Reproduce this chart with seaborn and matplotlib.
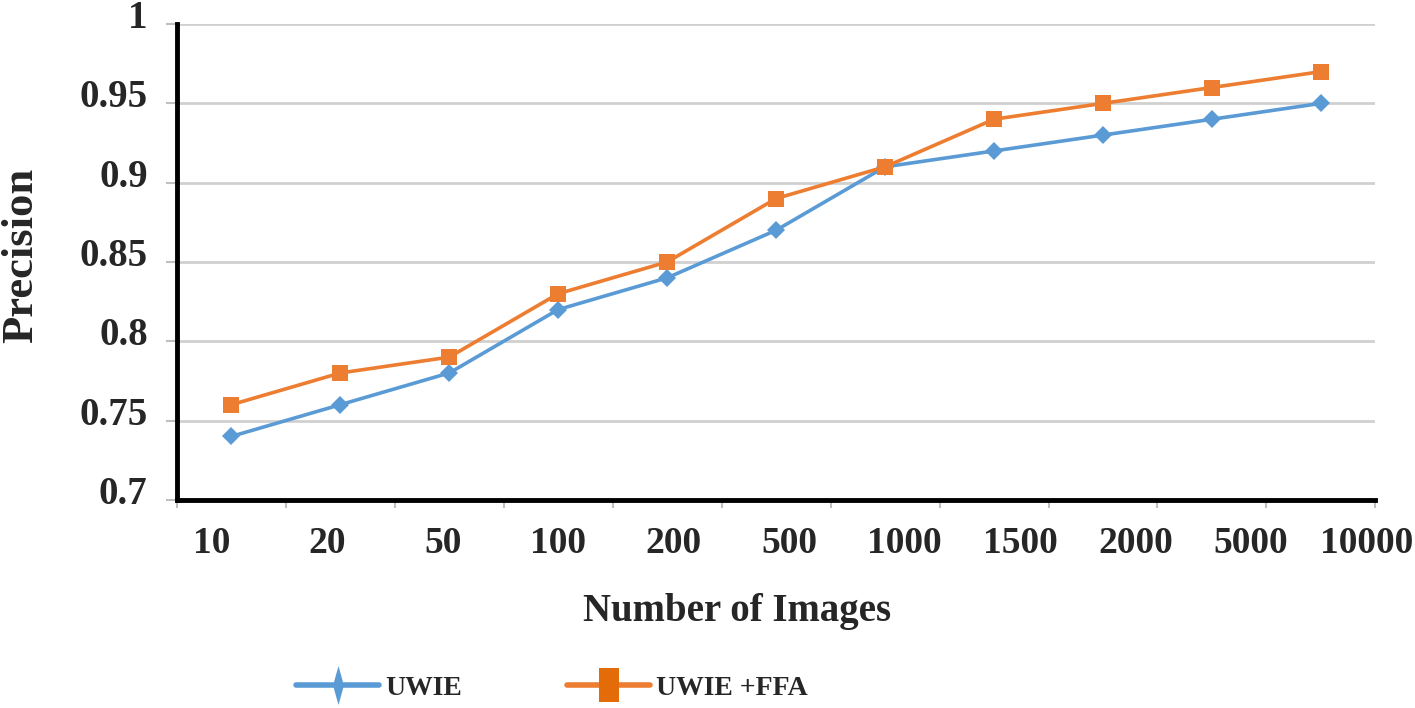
import numpy as np
import pandas as pd
import matplotlib
matplotlib.use('Agg')
import matplotlib.pyplot as plt
import matplotlib.transforms as mtransforms
from matplotlib.lines import Line2D
import seaborn as sns

# data
num_images = ['10', '20', '50', '100', '200', '500', '1000', '1500', '2000', '5000', '10000']
uwie = [0.74, 0.76, 0.78, 0.82, 0.84, 0.87, 0.91, 0.92, 0.93, 0.94, 0.95]
uwie_ffa = [0.76, 0.78, 0.79, 0.83, 0.85, 0.89, 0.91, 0.94, 0.95, 0.96, 0.97]
series_names = ['UWIE', 'UWIE +FFA']
y_ticks = [0.7, 0.75, 0.8, 0.85, 0.9, 0.95, 1.0]
y_tick_labels = ['0.7', '0.75', '0.8', '0.85', '0.9', '0.95', '1']

blue = '#5B9BD5'
orange = '#ED7D31'
orange_dark = '#E36C09'

sns.set_theme(style='white')
plt.rcParams['font.family'] = ['Liberation Serif', 'DejaVu Serif']
plt.rcParams['font.weight'] = 'bold'

pos = np.arange(len(num_images))
df = pd.DataFrame({
    'pos': np.concatenate([pos, pos]),
    'precision': uwie + uwie_ffa,
    'method': [series_names[0]] * len(pos) + [series_names[1]] * len(pos),
})

fig = plt.figure(figsize=(14.15, 7.08), dpi=100)
ax = fig.add_axes([0.125, 0.294, 0.847, 0.672])

sns.lineplot(data=df, x='pos', y='precision', hue='method', style='method',
             palette=[blue, orange], markers=['D', 's'], dashes=False,
             linewidth=2.6, markersize=10, markeredgewidth=0, ax=ax, legend=False)
# square marker a bit bigger
for line, ms in zip(ax.lines, [9, 11]):
    line.set_markersize(ms)

ax.set_xlim(-0.5, len(num_images) - 0.5)
ax.set_ylim(0.7, 1.0)

# grid + axes
ax.set_yticks(y_ticks)
ax.set_yticklabels(y_tick_labels, fontsize=28, fontweight='bold')
ax.yaxis.grid(True, color='#D0D0D0', linewidth=2)
ax.xaxis.grid(False)
ax.tick_params(axis='y', length=8, width=1.5, color='#BFBFBF', pad=13, left=True)
for lab in ax.get_yticklabels():
    lab.set_transform(lab.get_transform() +
                      mtransforms.ScaledTranslation(0, 0.1, fig.dpi_scale_trans))

# category labels spread a little wider than the points, as in the original
label_pos = np.arange(len(num_images)) * 1.06 - 0.18
ax.set_xticks(label_pos)
ax.set_xticklabels(num_images, fontsize=27, fontweight='bold')
ax.tick_params(axis='x', length=0, pad=19)
ax.set_xticks(np.arange(len(num_images) + 1) - 0.5, minor=True)
ax.tick_params(axis='x', which='minor', length=6, width=1.5, color='#BFBFBF', bottom=True)

for side in ['top', 'right']:
    ax.spines[side].set_visible(False)
for side in ['left', 'bottom']:
    ax.spines[side].set_color('black')
    ax.spines[side].set_linewidth(3.5)
    ax.spines[side].set_zorder(5)

ax.set_xlabel('Number of Images', fontsize=28, fontweight='bold')
ax.xaxis.set_label_coords(0.467, -0.195)
ax.set_ylabel('Precision', fontsize=32, fontweight='bold')
ax.yaxis.set_label_coords(-0.113, 0.513)

# legend with tall thin marks
diamond = [(0, 1), (0.28, 0), (0, -1), (-0.28, 0)]
rect = [(-0.62, -1), (0.62, -1), (0.62, 1), (-0.62, 1)]
handles = [
    Line2D([], [], color=blue, linewidth=4, marker=diamond, markersize=28,
           markerfacecolor=blue, markeredgewidth=0),
    Line2D([], [], color=orange, linewidth=4, marker=rect, markersize=24,
           markerfacecolor=orange_dark, markeredgewidth=0),
]
fig.legend(handles, series_names, loc='center', bbox_to_anchor=(0.39, 0.028),
           ncol=2, frameon=False, handlelength=3.0,
           handletextpad=0.2, columnspacing=3.8,
           prop={'family': ['Liberation Serif'], 'weight': 'bold', 'size': 20})

fig.savefig('out.png', dpi=100)
